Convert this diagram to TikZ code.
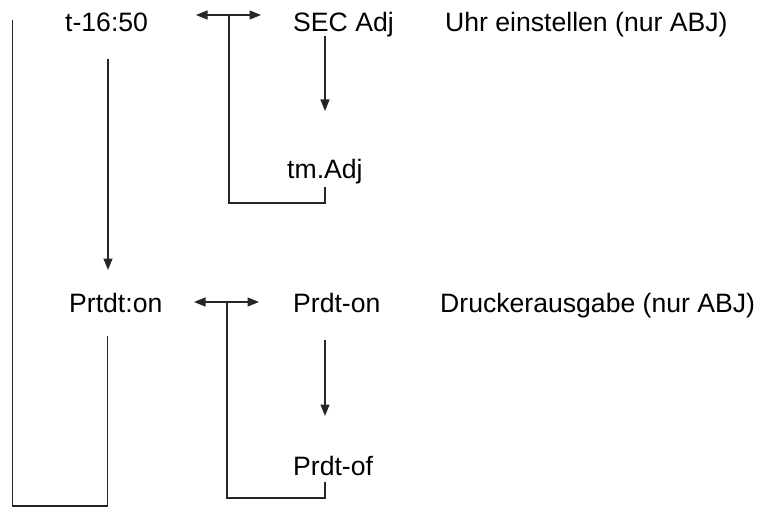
\documentclass[tikz,border=0pt]{standalone}
\usepackage{fontspec}
\setmainfont{Liberation Sans}
\usetikzlibrary{arrows.meta}
\begin{document}
\begin{tikzpicture}[x=1pt,y=-1pt,
  lbl/.style={anchor=base west,inner sep=0pt,font=\fontsize{26.6}{30}\selectfont},
  ln/.style={line width=1.2pt,draw=black!85},
  tip/.style={Triangle[length=11.5pt,width=9pt]},
  arr/.style={ln,-{Triangle[length=11.5pt,width=9pt]}},
  darr/.style={ln,{Triangle[length=11.5pt,width=9pt]}-{Triangle[length=11.5pt,width=9pt]}}]
\useasboundingbox (0,0) rectangle (764,511);
% texts
\node[lbl] (t) at (65,32) {t-16:50};
\node[lbl] (sec) at (293,32) {SEC Adj};
\node[lbl] (uhr) at (445,32) {Uhr einstellen (nur ABJ)};
\node[lbl] (tm) at (287,178) {tm.Adj};
\node[lbl] (prtdt) at (69,312) {Prtdt:on};
\node[lbl] (pon) at (293,312) {Prdt-on};
\node[lbl] (dru) at (440,312) {Druckerausgabe (nur ABJ)};
\node[lbl] (pof) at (293,475) {Prdt-of};
% coordinates
\coordinate (L1) at (12.5,20);
\coordinate (L2) at (12.5,506);
\coordinate (L3) at (107.5,506);
\coordinate (L4) at (107.5,336);
\coordinate (A1) at (108,59);
\coordinate (A2) at (108,270);
\coordinate (D1a) at (196,15);
\coordinate (D1b) at (261,15);
\coordinate (D1m) at (229,15);
\coordinate (D1c) at (229,203);
\coordinate (D1d) at (325,203);
\coordinate (D1e) at (325,187);
\coordinate (B1) at (325,36);
\coordinate (B2) at (325,111);
\coordinate (D2a) at (194,302);
\coordinate (D2b) at (259,302);
\coordinate (D2m) at (227,302);
\coordinate (D2c) at (227,498);
\coordinate (D2d) at (325,498);
\coordinate (D2e) at (325,482);
\coordinate (C1) at (325,340);
\coordinate (C2) at (325,416);
% connectors
\draw[ln] (L1) -- (L2) -- (L3) -- (L4);
\draw[arr] (A1) -- (A2);
\draw[darr] (D1a) -- (D1b);
\draw[ln] (D1m) -- (D1c) -- (D1d) -- (D1e);
\draw[arr] (B1) -- (B2);
\draw[darr] (D2a) -- (D2b);
\draw[ln] (D2m) -- (D2c) -- (D2d) -- (D2e);
\draw[arr] (C1) -- (C2);
\end{tikzpicture}
\end{document}
